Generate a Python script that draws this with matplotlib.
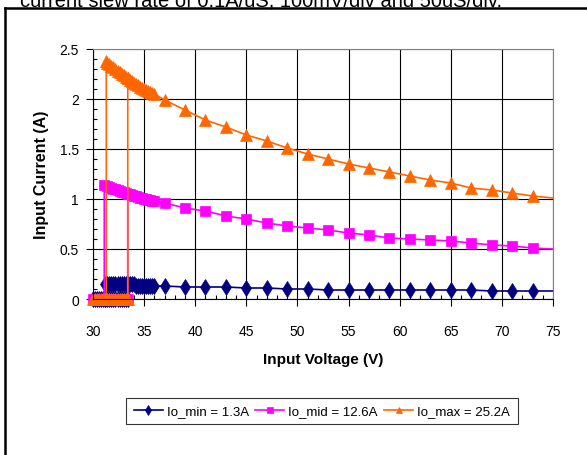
import matplotlib
matplotlib.use("Agg")
import matplotlib.pyplot as plt
from matplotlib.lines import Line2D
from matplotlib.ticker import MultipleLocator
from matplotlib.transforms import Bbox, TransformedBbox

plt.rcParams["font.family"] = ["Liberation Sans Narrow", "Liberation Sans", "DejaVu Sans"]

# descending input-voltage sweep (V), shared by all three load currents
v_down = [77, 73, 71, 69, 67, 65, 63, 61, 59, 57, 55, 53, 51, 49, 47, 45, 43, 41, 39, 37,
          36.0, 35.8, 35.6, 35.4, 35.2, 35.0, 34.8, 34.6, 34.4, 34.2, 34.0, 33.8,
          33.6, 33.4, 33.2, 33.0, 32.8, 32.6, 32.4, 32.2, 32.0, 31.8, 31.6, 31.4]

i_min_down = [0.08, 0.08, 0.08, 0.08, 0.09, 0.09, 0.09, 0.09, 0.09, 0.09, 0.09, 0.09, 0.10, 0.10,
              0.11, 0.11, 0.12, 0.12, 0.12, 0.13,
              0.13, 0.13, 0.13, 0.13, 0.13, 0.13, 0.13, 0.13, 0.13, 0.13, 0.15, 0.15,
              0.15, 0.15, 0.15, 0.15, 0.15, 0.15, 0.15, 0.15, 0.15, 0.15, 0.15, 0.15]
i_mid_down = [0.49, 0.51, 0.53, 0.54, 0.56, 0.58, 0.59, 0.60, 0.61, 0.64, 0.66, 0.69, 0.71, 0.73,
              0.76, 0.80, 0.83, 0.88, 0.91, 0.96,
              0.98, 0.98, 0.99, 0.99, 1.00, 1.00, 1.01, 1.01, 1.02, 1.03, 1.03, 1.04,
              1.05, 1.05, 1.06, 1.07, 1.07, 1.08, 1.09, 1.10, 1.10, 1.11, 1.12, 1.13]
i_max_down = [0.99, 1.03, 1.06, 1.09, 1.11, 1.16, 1.19, 1.23, 1.27, 1.31, 1.35, 1.40, 1.45, 1.51,
              1.58, 1.64, 1.72, 1.79, 1.89, 1.99,
              2.05, 2.06, 2.07, 2.08, 2.09, 2.10, 2.11, 2.12, 2.14, 2.15, 2.16, 2.18,
              2.19, 2.21, 2.22, 2.24, 2.25, 2.27, 2.28, 2.30, 2.32, 2.33, 2.35, 2.36]

# turn-off (UVLO falling) point: voltage and last current before dropping to 0
v_off = {"min": 31.2, "mid": 31.1, "max": 31.3}
i_off = {"min": 0.15, "mid": 1.14, "max": 2.38}

# ascending sweep while converter is off, then turn-on at 33.4 V
v_up = [30.0, 30.2, 30.4, 30.6, 30.8, 31.0, 31.2, 31.4, 31.6, 31.8,
        32.0, 32.2, 32.4, 32.6, 32.8, 33.0, 33.2, 33.4]
i_up = [0, 0, 0, 0, 0, 0, 0, 0, 0, 0, 0, 0, 0, 0, 0, 0, 0, 0]
v_on = 33.4
i_on = {"min": 0.15, "mid": 1.05, "max": 2.21}

series = [
    ("min", "Io_min = 1.3A", i_min_down, "#000080", "d", 8),
    ("mid", "Io_mid = 12.6A", i_mid_down, "#FF00FF", "s", 6.5),
    ("max", "Io_max = 25.2A", i_max_down, "#FF6600", "^", 8),
]

fig = plt.figure(figsize=(5.87, 4.56), dpi=100)
ax = fig.add_axes([93 / 587, 1 - 300 / 456, 460 / 587, 250 / 456])

# let markers sitting on the axis spill a little below / left, but clip at right edge
clip = TransformedBbox(Bbox([[-0.03, -0.06], [1.0, 1.0]]), ax.transAxes)

for key, label, i_down, col, mk, ms in series:
    v = v_down + [v_off[key], v_off[key]] + v_up + [v_on]
    cur = i_down + [i_off[key], 0] + i_up + [i_on[key]]
    ln, = ax.plot(v, cur, color=col, marker=mk, markersize=ms, linewidth=1.2,
                  markeredgewidth=0.5, label=label)
    ln.set_clip_box(clip)

ax.set_xlim(30, 75)
ax.set_ylim(0, 2.5)
ax.xaxis.set_major_locator(MultipleLocator(5))
ax.xaxis.set_minor_locator(MultipleLocator(1))
ax.yaxis.set_minor_locator(MultipleLocator(0.1))
ax.set_yticks([0, 0.5, 1, 1.5, 2, 2.5])
ax.set_yticklabels(["0", "0.5", "1", "1.5", "2", "2.5"])

ax.grid(True, which="major", color="black", linewidth=0.8)
ax.set_axisbelow(True)
ax.tick_params(which="major", direction="out", length=5, width=0.8, labelsize=10)
ax.tick_params(which="minor", direction="in", length=3, width=0.8)
ax.tick_params(axis="x", which="major", pad=13)
ax.tick_params(axis="y", which="major", pad=5)
ax.spines["top"].set_color("#808080")
ax.spines["right"].set_color("#808080")

ax.set_xlabel("Input Voltage (V)", fontsize=11, fontweight="bold", labelpad=10)
ax.set_ylabel("Input Current (A)", fontsize=11.5, fontweight="bold", labelpad=8,
              family=["Liberation Sans", "DejaVu Sans"])

leg = fig.legend(loc="center", bbox_to_anchor=(322 / 587, 1 - 412 / 456), ncol=3,
                 fontsize=9.5, frameon=True, fancybox=False, handlelength=2.2,
                 handletextpad=0.3, columnspacing=0.5, borderpad=0.55)
leg.get_frame().set_edgecolor("black")
leg.get_frame().set_linewidth(0.8)
for h in leg.legend_handles:
    h.set_markersize(5)

# text box frame (left and top edge) and the cut-off caption above it
fig.add_artist(Line2D([5 / 587, 5 / 587], [0, 1 - 9 / 456], color="black", linewidth=1.8,
                      transform=fig.transFigure))
fig.add_artist(Line2D([5 / 587, 1], [1 - 9 / 456, 1 - 9 / 456], color="black", linewidth=1.8,
                      transform=fig.transFigure))
fig.text(20 / 587, 1 - 6.5 / 456, "current slew rate of 0.1A/uS, 100mV/div and 50uS/div.",
         fontsize=14.5, va="baseline", ha="left", family=["Liberation Sans", "DejaVu Sans"])

fig.savefig("out.png", dpi=100)
